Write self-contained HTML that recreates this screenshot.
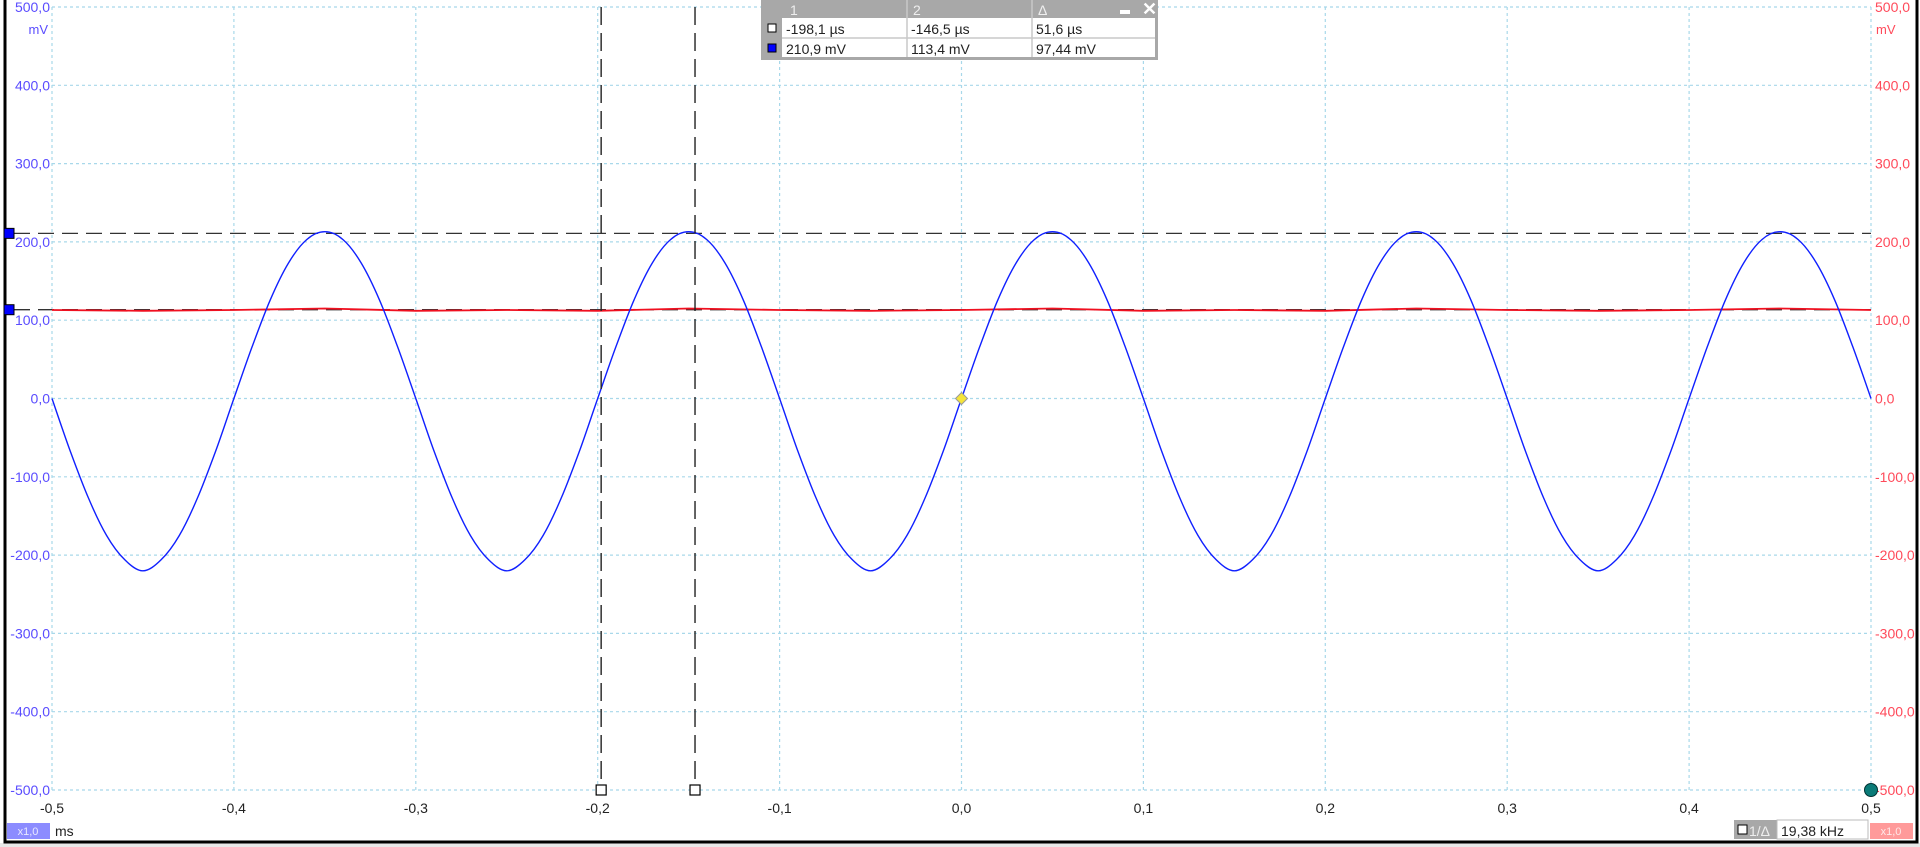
<!DOCTYPE html>
<html><head><meta charset="utf-8"><style>
html,body{margin:0;padding:0;width:1920px;height:847px;overflow:hidden;background:#fff;font-family:"Liberation Sans",sans-serif}
svg{position:absolute;left:0;top:0}
</style></head><body>
<svg id="chart" width="1920" height="847" xmlns="http://www.w3.org/2000/svg"></svg>
<script>
const xTicks=[-0.5,-0.4,-0.3,-0.2,-0.1,0,0.1,0.2,0.3,0.4,0.5];
const xTickLabels=["-0,5","-0,4","-0,3","-0,2","-0,1","0,0","0,1","0,2","0,3","0,4","0,5"];
const yTicks=[500,400,300,200,100,0,-100,-200,-300,-400,-500];
const yTickLabels=["500,0","400,0","300,0","200,0","100,0","0,0","-100,0","-200,0","-300,0","-400,0","-500,0"];
// channel A samples every 0.01 ms from -0.5 to 0.5 (mV)
const chATimes=[];for(let i=0;i<=100;i++)chATimes.push(-0.5+i*0.01);
const chAValues=[0,-67,-127,-175,-206,-220,-206,-175,-127,-67,0,66,126,173,203,213,203,173,126,66,
0,-67,-127,-175,-206,-220,-206,-175,-127,-67,0,66,126,173,203,213,203,173,126,66,
0,-67,-127,-175,-206,-220,-206,-175,-127,-67,0,66,126,173,203,213,203,173,126,66,
0,-67,-127,-175,-206,-220,-206,-175,-127,-67,0,66,126,173,203,213,203,173,126,66,
0,-67,-127,-175,-206,-220,-206,-175,-127,-67,0,66,126,173,203,213,203,173,126,66,0];
const chBTimes=[-0.5,-0.45,-0.4,-0.35,-0.3,-0.25,-0.2,-0.15,-0.1,-0.05,0,0.05,0.1,0.15,0.2,0.25,0.3,0.35,0.4,0.45,0.5];
const chBValues=[113,112,113,115,112,113,112,115,113,112,113,115,112,113,112,115,113,112,113,115,113];
const cursorTimes=[-0.1981,-0.1465];
const cursorLevels=[210.9,113.4];

const X0=52,X1=1871,Y0=7,Y1=790;
const sx=t=>X0+(t+0.5)*(X1-X0);
const sy=v=>Y0+(500-v)/1000*(Y1-Y0);
const svg=document.getElementById('chart');
const NS='http://www.w3.org/2000/svg';
function mk(tag,attrs,parent){const e=document.createElementNS(NS,tag);for(const k in attrs)e.setAttribute(k,attrs[k]);(parent||svg).appendChild(e);return e;}
function smooth(pts){let d='M'+pts[0][0].toFixed(1)+','+pts[0][1].toFixed(1);
 for(let i=0;i<pts.length-1;i++){const p0=pts[Math.max(i-1,0)],p1=pts[i],p2=pts[i+1],p3=pts[Math.min(i+2,pts.length-1)];
  const c1=[p1[0]+(p2[0]-p0[0])/6,p1[1]+(p2[1]-p0[1])/6],c2=[p2[0]-(p3[0]-p1[0])/6,p2[1]-(p3[1]-p1[1])/6];
  d+='C'+c1[0].toFixed(1)+','+c1[1].toFixed(1)+' '+c2[0].toFixed(1)+','+c2[1].toFixed(1)+' '+p2[0].toFixed(1)+','+p2[1].toFixed(1);}
 return d;}

let e=mk('rect',{x:0,y:843,width:1920,height:4,fill:'#e8e8e8'});


e=mk('path',{d:'M5,0 V842 H1917 V0',fill:'none',stroke:'#000','stroke-width':3});



xTicks.forEach((t,i)=>{
 const g=mk('line',{x1:sx(t),x2:sx(t),y1:Y0,y2:Y1,stroke:'#a8d8ea','stroke-dasharray':'3,3','stroke-width':1.2});
 
 
 const l=mk('text',{x:sx(t),y:813,'text-anchor':'middle','font-size':14,fill:'#222'});
 l.textContent=xTickLabels[i];
 
 
});
yTicks.forEach((v,i)=>{
 const g=mk('line',{x1:X0,x2:X1,y1:sy(v),y2:sy(v),stroke:'#a8d8ea','stroke-dasharray':'3,3','stroke-width':1.2});
 
 
 const l=mk('text',{x:50,y:sy(v)+5,'text-anchor':'end','font-size':14,fill:'#5a4cff'});
 l.textContent=yTickLabels[i];
 
 
 const r=mk('text',{x:1875,y:sy(v)+5,'text-anchor':'start','font-size':14,fill:'#ff4a5a'});
 r.textContent=yTickLabels[i];
 
 
});
e=mk('text',{x:48,y:34,'text-anchor':'end','font-size':13,fill:'#5a4cff'});e.textContent='mV';


e=mk('text',{x:1876,y:34,'font-size':13,fill:'#ff4a5a'});e.textContent='mV';



cursorLevels.forEach(v=>{
 const c=mk('line',{x1:14,x2:X1,y1:sy(v),y2:sy(v),stroke:'#333','stroke-dasharray':'16,8','stroke-width':1.3});
 
 
 const m=mk('rect',{x:4,y:sy(v)-5,width:10,height:10,fill:'#0000ff',stroke:'#000','stroke-width':1});
 
 
});

let d='';chBTimes.forEach((t,i)=>{d+=(i?'L':'M')+sx(t).toFixed(1)+','+sy(chBValues[i]).toFixed(1);});
e=mk('path',{d:d,fill:'none',stroke:'#f01020','stroke-width':1.8});


e=mk('path',{d:smooth(chATimes.map((t,i)=>[sx(t),sy(chAValues[i])])),fill:'none',stroke:'#1020ff','stroke-width':1.4});



cursorTimes.forEach(t=>{
 const c=mk('line',{x1:sx(t),x2:sx(t),y1:7,y2:Y1-5,stroke:'#222','stroke-dasharray':'18,8','stroke-width':1.4});
 
 
 const h=mk('rect',{x:sx(t)-5,y:Y1-5,width:10,height:10,fill:'#fff',stroke:'#000','stroke-width':1.2});
 
 
});

e=mk('polygon',{points:`${sx(0)},${sy(0)-6} ${sx(0)+6},${sy(0)} ${sx(0)},${sy(0)+6} ${sx(0)-6},${sy(0)}`,fill:'#f5e43a',stroke:'#999','stroke-width':1});


e=mk('circle',{cx:sx(0.5),cy:sy(-500),r:6.5,fill:'#0a7b78',stroke:'#033','stroke-width':1});



const tg=mk('g',{});


mk('rect',{x:761,y:0,width:397,height:60,fill:'#a8a8a8'},tg);
mk('rect',{x:782,y:18,width:373,height:39,fill:'#fff'},tg);
[[907,0,907,57],[1032,0,1032,57],[782,38,1155,38]].forEach(a=>mk('line',{x1:a[0],y1:a[1],x2:a[2],y2:a[3],stroke:'#c8c8c8','stroke-width':1.5},tg));
[['1',790],['2',913],['Δ',1038]].forEach(h=>{const t=mk('text',{x:h[1],y:15,'font-size':14,fill:'#eee'},tg);t.textContent=h[0];});
e=mk('text',{x:1142,y:15,'font-size':18,'font-weight':'bold',fill:'#fff'},tg);e.textContent='✕';


e=mk('rect',{x:1120,y:10,width:10,height:4,fill:'#fff'},tg);


mk('rect',{x:768,y:24,width:8,height:8,fill:'#fff',stroke:'#000'},tg);
mk('rect',{x:768,y:44,width:8,height:8,fill:'#0000ff',stroke:'#000'},tg);
[['-198,1 µs',786,34],['-146,5 µs',911,34],['51,6 µs',1036,34],['210,9 mV',786,54],['113,4 mV',911,54],['97,44 mV',1036,54]].forEach(c=>{const t=mk('text',{x:c[1],y:c[2],'font-size':14,fill:'#222'},tg);t.textContent=c[0];});

e=mk('rect',{x:7,y:823,width:43,height:16,fill:'#8c8cff'});


e=mk('text',{x:28,y:835,'text-anchor':'middle','font-size':11,fill:'#e8e8ff'});e.textContent='x1,0';
e=mk('text',{x:55,y:836,'font-size':14,fill:'#222'});e.textContent='ms';


e=mk('rect',{x:1734,y:820,width:43,height:19,fill:'#a8a8a8'});


mk('rect',{x:1738,y:825,width:9,height:9,fill:'#fff',stroke:'#000'});
e=mk('text',{x:1749,y:836,'font-size':14,fill:'#eee'});e.textContent='1/Δ';
e=mk('rect',{x:1777,y:820,width:91,height:19,fill:'#fff',stroke:'#bbb'});


e=mk('text',{x:1781,y:836,'font-size':14,fill:'#222'});e.textContent='19,38 kHz';
e=mk('rect',{x:1870,y:823,width:43,height:16,fill:'#ff9a9a'});


e=mk('text',{x:1891,y:835,'text-anchor':'middle','font-size':11,fill:'#ffe8e8'});e.textContent='x1,0';
</script>
</body></html>
